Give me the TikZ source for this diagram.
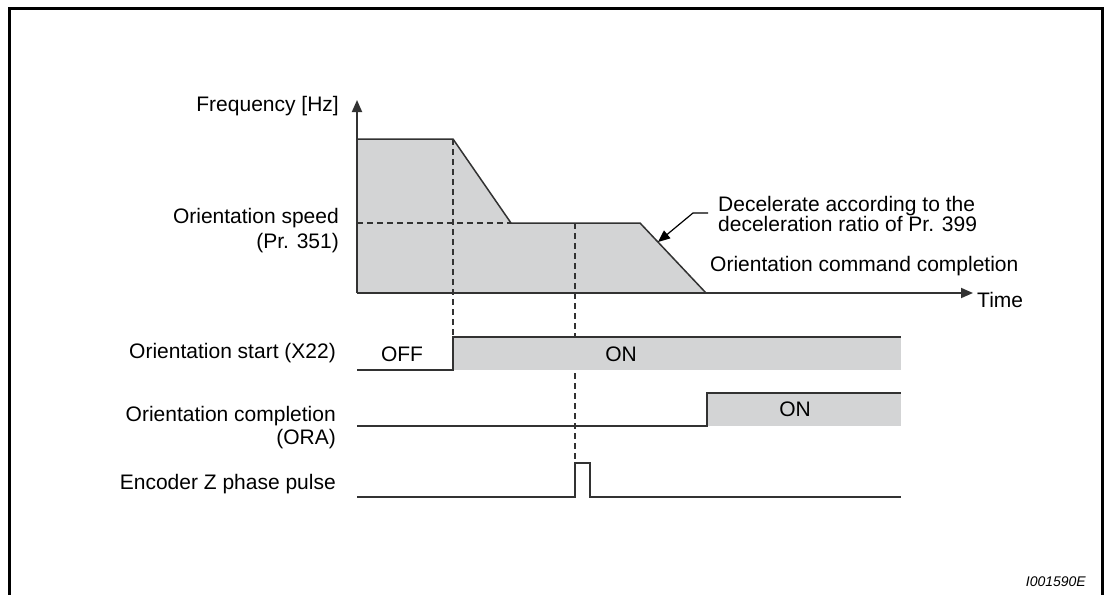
\documentclass[tikz,border=0pt]{standalone}
\usepackage{fontspec}
\setmainfont{Liberation Sans}
\usetikzlibrary{arrows.meta}
\definecolor{fillgray}{RGB}{211,212,213}
\definecolor{linegray}{RGB}{50,50,50}
\begin{document}
\begin{tikzpicture}[x=1pt,y=-1pt,
  lbl/.style={font=\fontsize{21}{23}\selectfont, inner sep=0pt, text=black},
  axis/.style={draw=linegray, line width=1.8pt, -{Triangle[length=12pt,width=10pt]}},
  sig/.style={draw=linegray, line width=1.5pt},
  dsh/.style={draw=linegray, line width=1.3pt, dash pattern=on 6pt off 4pt},
  area/.style={fill=fillgray}]
\useasboundingbox (0,0) rectangle (1105,594);
% frame
\draw[line width=3pt] (9,600) -- (9,9) -- (1102,9) -- (1102,600);
% frequency area
\fill[area] (357,293) -- (357,139) -- (453,139) -- (511,223) -- (640,223) -- (706,293) -- cycle;
\draw[sig] (357,139) -- (453,139) -- (511,223) -- (640,223) -- (706,293);
% axes
\coordinate (o) at (357,293);
\coordinate (ytip) at (357,100);
\coordinate (xtip) at (973,293);
\draw[axis] (o) -- (ytip);
\draw[axis] (o) -- (xtip);
% dashed guides
\draw[dsh] (453,139) -- (453,337);
\draw[dsh] (357,223) -- (511,223);
\draw[dsh] (575,223) -- (575,463);
% orientation start
\fill[area] (453,337) rectangle (901,370);
\draw[sig] (357,370) -- (453,370) -- (453,337) -- (901,337);
% orientation completion
\fill[area] (707,393) rectangle (901,426);
\draw[sig] (357,426) -- (707,426) -- (707,393) -- (901,393);
% encoder pulse
\draw[sig] (357,497) -- (575,497) -- (575,463) -- (590,463) -- (590,497) -- (901,497);
% labels
\node[lbl, anchor=east] (freq) at (339,106) {Frequency [Hz]};
\node[lbl, anchor=east, align=right, font=\fontsize{21}{25}\selectfont] (ospeed) at (339,231) {Orientation speed\\(Pr. 351)};
\node[lbl, anchor=west] (time) at (977,300) {Time};
\node[lbl, anchor=west, align=left, font=\fontsize{21}{20}\selectfont] (decel) at (718,214) {Decelerate according to the\\deceleration ratio of Pr. 399};
\node[lbl, anchor=west] (occ) at (710,266) {Orientation command completion};
\node[lbl, anchor=east] (ostart) at (336,353) {Orientation start (X22)};
\node[lbl, anchor=east, align=right] (ocomp) at (336,428) {Orientation completion\\(ORA)};
\node[lbl, anchor=east] (enc) at (336,484) {Encoder Z phase pulse};
\node[lbl] (off) at (402,354) {OFF};
\node[lbl] (on1) at (621,354) {ON};
\node[lbl] (on2) at (795,409) {ON};
\node[inner sep=0pt, font=\fontsize{14}{16}\selectfont\itshape, anchor=east] (id) at (1086,582) {I001590E};
% leader arrow
\coordinate (l1) at (708,213);
\coordinate (l2) at (693,213);
\coordinate (ltip) at (658,242);
\draw[line width=1.2pt, -{Triangle[length=12pt,width=10pt]}] (l1) -- (l2) -- (ltip);
\end{tikzpicture}
\end{document}
